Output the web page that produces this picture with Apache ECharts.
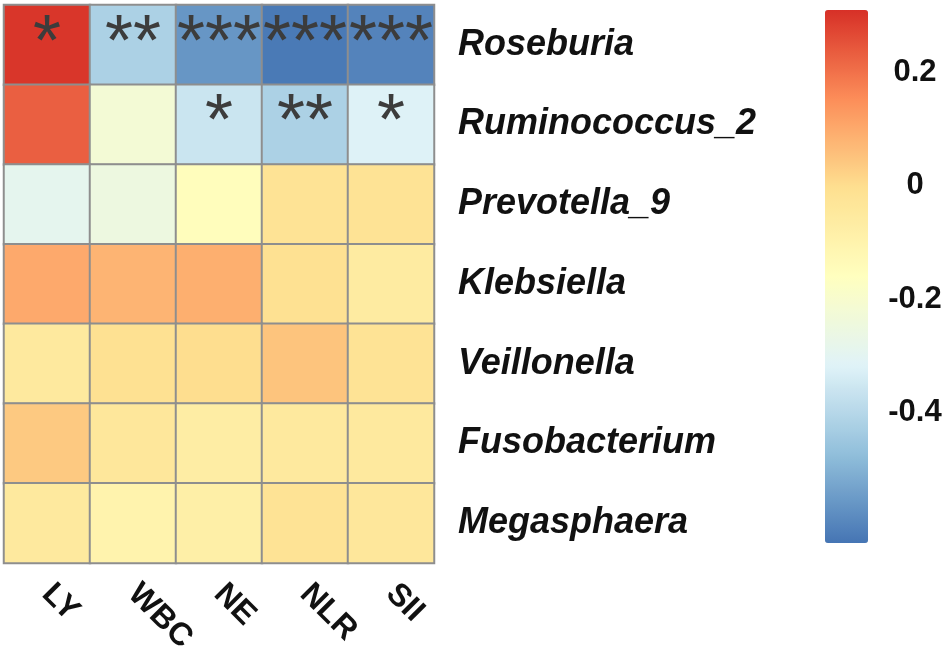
<!DOCTYPE html>
<html>
<head>
<meta charset="utf-8">
<script src="https://cdn.jsdelivr.net/npm/echarts@6/dist/echarts.min.js"></script>
<style>
html,body{margin:0;padding:0;background:#fff;}
#c{width:950px;height:656px;}
</style>
</head>
<body>
<div id="c"></div>
<script>
// Columns (clinical indices) and rows (genera)
const cols = ['LY', 'WBC', 'NE', 'NLR', 'SII'];
const rows = ['Roseburia', 'Ruminococcus_2', 'Prevotella_9', 'Klebsiella', 'Veillonella', 'Fusobacterium', 'Megasphaera'];

// Correlation values per row (LY, WBC, NE, NLR, SII)
const roseburia     = [0.30, -0.42, -0.56, -0.62, -0.60];
const ruminococcus2 = [0.23, -0.22, -0.36, -0.42, -0.32];
const prevotella9   = [-0.29, -0.25, -0.15, -0.02, -0.02];
const klebsiella    = [0.10, 0.08, 0.09, -0.01, -0.06];
const veillonella   = [-0.05, -0.01, 0.00, 0.05, -0.02];
const fusobacterium = [0.04, -0.04, -0.07, -0.05, -0.05];
const megasphaera   = [-0.05, -0.10, -0.08, -0.02, -0.04];

// Significance stars per row
const starsRoseburia     = ['*', '**', '***', '***', '***'];
const starsRuminococcus2 = ['', '', '*', '**', '*'];
const starsOther         = ['', '', '', '', ''];

// Colour scale range and colour-bar tick labels
const scaleMin = -0.63;
const scaleMax = 0.31;
const colorTicks = [0.2, 0, -0.2, -0.4];
const palette = ['#4575B4', '#91BFDB', '#E0F3F8', '#FFFFBF', '#FEE090', '#FC8D59', '#D73027'];

const valueRows = [roseburia, ruminococcus2, prevotella9, klebsiella, veillonella, fusobacterium, megasphaera];
const starRows = [starsRoseburia, starsRuminococcus2, starsOther, starsOther, starsOther, starsOther, starsOther];

const data = [];
valueRows.forEach((r, yi) => r.forEach((v, xi) => data.push([xi, yi, v, starRows[yi][xi]])));

const FONT = '"Liberation Sans", Arial, Helvetica, sans-serif';

const chart = echarts.init(document.getElementById('c'), null, {renderer: 'canvas'});
chart.setOption({
  animation: false,
  backgroundColor: '#ffffff',
  grid: [
    {left: 4, top: 5, width: 430, height: 558, containLabel: false, outerBoundsMode: 'none'},
    {left: 825, top: 10, width: 43, height: 533, containLabel: false, outerBoundsMode: 'none'}
  ],
  xAxis: [
    {
      type: 'category', gridIndex: 0, data: cols, position: 'bottom',
      axisLine: {show: false}, axisTick: {show: false}, splitLine: {show: false},
      axisLabel: {rotate: -45, margin: 26, fontSize: 32, fontWeight: 'bold', color: '#111', fontFamily: FONT, interval: 0}
    },
    {type: 'value', gridIndex: 1, show: false, min: 0, max: 1}
  ],
  yAxis: [
    {
      type: 'category', gridIndex: 0, data: rows, inverse: true, position: 'right',
      axisLine: {show: false}, axisTick: {show: false}, splitLine: {show: false},
      axisLabel: {margin: 24, fontSize: 36, fontWeight: 'bold', fontStyle: 'italic', color: '#111', fontFamily: FONT, align: 'left', interval: 0}
    },
    {
      type: 'value', gridIndex: 1, position: 'right', min: scaleMin, max: scaleMax,
      axisLine: {show: false}, axisTick: {show: false}, splitLine: {show: false},
      axisLabel: {
        customValues: colorTicks, margin: 47, align: 'center',
        fontSize: 31, fontWeight: 'bold', color: '#111', fontFamily: FONT,
        formatter: v => (Math.abs(v) < 1e-9 ? '0' : String(Math.round(v * 10) / 10))
      }
    }
  ],
  visualMap: {
    type: 'continuous', seriesIndex: 0, dimension: 2, min: scaleMin, max: scaleMax,
    calculable: false, orient: 'vertical', left: 825, top: 10, padding: 0,
    itemWidth: 43, itemHeight: 533, text: null, showLabel: false,
    inRange: {color: palette}
  },
  series: [{
    type: 'heatmap', xAxisIndex: 0, yAxisIndex: 0,
    data: data,
    itemStyle: {borderColor: '#8e8e8e', borderWidth: 2},
    label: {
      show: true, position: 'inside',
      formatter: p => p.data[3],
      fontSize: 72, color: '#3c3c3c', fontFamily: FONT
    },
    emphasis: {disabled: true}
  }]
});
</script>
</body>
</html>
